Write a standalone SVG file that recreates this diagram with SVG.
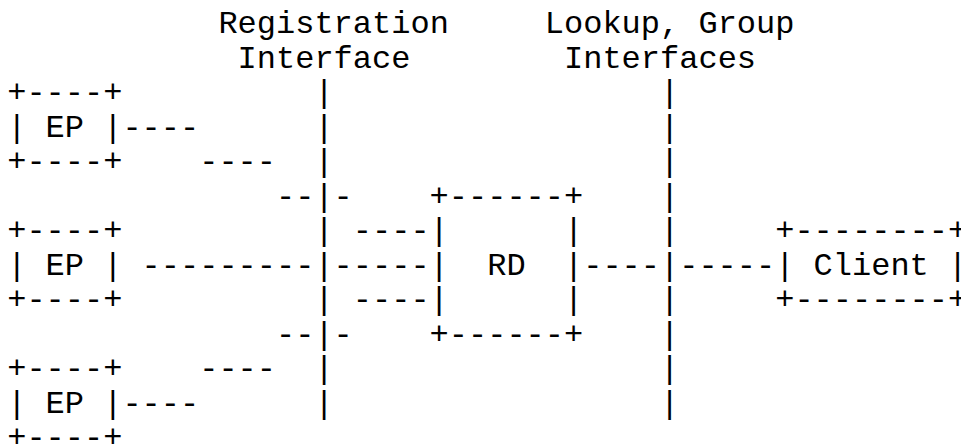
<svg xmlns="http://www.w3.org/2000/svg" width="961" height="447" viewBox="0 0 961 447" xml:space="preserve">
<style>
text{font-family:"Liberation Mono","Courier New",monospace;font-size:32px;fill:#000;white-space:pre}
</style>
<rect width="961" height="447" fill="#fff"/>
<g id="labels">
<text x="218.4" y="33.3">Registration</text>
<text x="237.6" y="67.8">Interface</text>
<text x="544.8" y="33.3">Lookup, Group</text>
<text x="564" y="67.8">Interfaces</text>
</g>
<g id="ep1">
<text x="7.2" y="102.3">+----+</text>
<text x="7.2" y="136.8">| EP |</text>
<text x="7.2" y="171.3">+----+</text>
</g>
<g id="ep2">
<text x="7.2" y="240.3">+----+</text>
<text x="7.2" y="274.8">| EP |</text>
<text x="7.2" y="309.3">+----+</text>
</g>
<g id="ep3">
<text x="7.2" y="378.3">+----+</text>
<text x="7.2" y="412.8">| EP |</text>
<text x="7.2" y="447.3">+----+</text>
</g>
<g id="rd">
<text x="429.6" y="205.8">+------+</text>
<text x="429.6" y="240.3">|      |</text>
<text x="429.6" y="274.8">|  RD  |</text>
<text x="429.6" y="309.3">|      |</text>
<text x="429.6" y="343.8">+------+</text>
</g>
<g id="client">
<text x="775.2" y="240.3">+--------+</text>
<text x="775.2" y="274.8">| Client |</text>
<text x="775.2" y="309.3">+--------+</text>
</g>
<g id="connectors">
<g id="registration-interface">
<text x="314.4" y="102.3">|</text>
<text x="314.4" y="136.8">|</text>
<text x="314.4" y="171.3">|</text>
<text x="314.4" y="205.8">|</text>
<text x="314.4" y="240.3">|</text>
<text x="314.4" y="274.8">|</text>
<text x="314.4" y="309.3">|</text>
<text x="314.4" y="343.8">|</text>
<text x="314.4" y="378.3">|</text>
<text x="314.4" y="412.8">|</text>
</g>
<g id="lookup-interface">
<text x="660" y="102.3">|</text>
<text x="660" y="136.8">|</text>
<text x="660" y="171.3">|</text>
<text x="660" y="205.8">|</text>
<text x="660" y="240.3">|</text>
<text x="660" y="274.8">|</text>
<text x="660" y="309.3">|</text>
<text x="660" y="343.8">|</text>
<text x="660" y="378.3">|</text>
<text x="660" y="412.8">|</text>
</g>
<g id="ep1-rd">
<text x="122.4" y="136.8">----</text>
<text x="199.2" y="171.3">----</text>
<text x="276" y="205.8">--</text>
<text x="333.6" y="205.8">-</text>
<text x="352.8" y="240.3">----</text>
</g>
<g id="ep2-rd">
<text x="141.6" y="274.8">---------</text>
<text x="333.6" y="274.8">-----</text>
</g>
<g id="ep3-rd">
<text x="122.4" y="412.8">----</text>
<text x="199.2" y="378.3">----</text>
<text x="276" y="343.8">--</text>
<text x="333.6" y="343.8">-</text>
<text x="352.8" y="309.3">----</text>
</g>
<g id="rd-client">
<text x="583.2" y="274.8">----</text>
<text x="679.2" y="274.8">-----</text>
</g>
</g>
</svg>
